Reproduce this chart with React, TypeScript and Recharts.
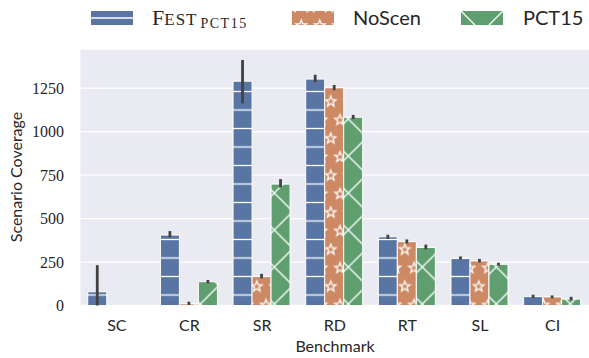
import React from "react"
import { Bar, BarChart, CartesianGrid, ErrorBar, XAxis, YAxis } from "recharts"

const benchmarks = ["SC", "CR", "SR", "RD", "RT", "SL", "CI"]

// mean coverage + confidence interval bounds
const festMean = [79, 405, 1290, 1302, 395, 271, 51]
const festLow = [0, 392, 1162, 1285, 383, 264, 43]
const festHigh = [232, 428, 1412, 1327, 407, 282, 62]

const noScenMean = [0, 10, 166, 1252, 367, 256, 49]
const noScenLow = [0, 3, 156, 1238, 357, 248, 42]
const noScenHigh = [0, 22, 182, 1268, 380, 268, 58]

const pctMean = [0, 137, 698, 1083, 334, 237, 37]
const pctLow = [0, 128, 678, 1072, 323, 229, 31]
const pctHigh = [0, 147, 727, 1096, 350, 246, 50]

const yTicks = [0, 250, 500, 750, 1000, 1250]

const BLUE = "#5975a4"
const ORANGE = "#cc8963"
const GREEN = "#5f9e6e"
const TEXT = "#262626"
const SANS = "Lato"
const SERIF = "Liberation Serif"

function errOf(mean: number, low: number, high: number) {
  if (mean === 0 && low === high) return null
  return [mean - low, high - mean]
}

const data = benchmarks.map((name, i) => ({
  name,
  fest: festMean[i],
  festErr: errOf(festMean[i], festLow[i], festHigh[i]),
  noScen: noScenMean[i],
  noScenErr: errOf(noScenMean[i], noScenLow[i], noScenHigh[i]),
  pct: pctMean[i],
  pctErr: errOf(pctMean[i], pctLow[i], pctHigh[i]),
}))

function starPath(cx: number, cy: number, R = 5.5, r = 2.3) {
  const pts: string[] = []
  for (let k = 0; k < 10; k++) {
    const rad = k % 2 === 0 ? R : r
    const a = -Math.PI / 2 + (k * Math.PI) / 5
    pts.push(`${(cx + rad * Math.cos(a)).toFixed(2)},${(cy + rad * Math.sin(a)).toFixed(2)}`)
  }
  return `M${pts.join("L")}Z`
}

function StarTile({ w, h }: { w: number; h: number }) {
  const centers = [
    [0, 0],
    [w, 0],
    [0, h],
    [w, h],
    [w / 2, h / 2],
  ]
  return (
    <>
      {centers.map(([cx, cy], i) => (
        <path key={i} d={starPath(cx, cy)} fill="none" stroke="#fff" strokeWidth={1.3} />
      ))}
    </>
  )
}

function YTick(props: any) {
  const { x, y, payload } = props
  return (
    <text x={x} y={y} dy="0.355em" textAnchor="end" fill={TEXT} fontSize={16} fontFamily={SERIF}>
      {payload.value}
    </text>
  )
}

function XTick(props: any) {
  const { x, y, payload } = props
  return (
    <text x={x} y={y} dy="0.71em" textAnchor="middle" fill={TEXT} fontSize={16} fontFamily={SANS}>
      {payload.value}
    </text>
  )
}

function Legend() {
  return (
    <svg width={589} height={40} style={{ position: "absolute", left: 0, top: 0 }}>
      <defs>
        <pattern id="legStar" patternUnits="userSpaceOnUse" x={292} y={7} width={18.5} height={37}>
          <rect width={18.5} height={37} fill={ORANGE} />
          <StarTile w={18.5} h={37} />
        </pattern>
      </defs>
      <rect x={91} y={11} width={42} height={14} fill={BLUE} />
      <line x1={91} x2={133} y1={18} y2={18} stroke="#fff" strokeWidth={1.3} />
      <text x={152} y={25} fill={TEXT} fontFamily={SERIF}>
        <tspan fontSize={22}>F</tspan>
        <tspan fontSize={17} letterSpacing={1}>EST</tspan>
        <tspan fontSize={14} letterSpacing={1.5} dx={3} dy={3.3}>PCT15</tspan>
      </text>

      <rect x={292} y={11} width={42} height={14} fill="url(#legStar)" />
      <text x={353} y={25} fontSize={20} fill={TEXT} fontFamily={SANS}>NoScen</text>

      <rect x={461} y={11} width={42} height={14} fill={GREEN} />
      <line x1={461} y1={11} x2={475} y2={25} stroke="#fff" strokeWidth={1.3} />
      <line x1={489} y1={25} x2={503} y2={11} stroke="#fff" strokeWidth={1.3} />
      <text x={523} y={25} fontSize={20} fill={TEXT} fontFamily={SANS}>PCT15</text>
    </svg>
  )
}

export default function App() {
  return (
    <div style={{ position: "absolute", left: 0, top: 0, width: 589, height: 358, background: "#fff" }}>
      <BarChart
        width={589}
        height={358}
        data={data}
        margin={{ top: 49, right: 0, bottom: 22.5, left: 0 }}
        barCategoryGap="10%"
        barGap={0}
      >
        <defs>
          <pattern id="hatchH" patternUnits="userSpaceOnUse" x={0} y={100.75} width={20} height={18.5}>
            <rect width={20} height={18.5} fill={BLUE} />
            <line x1={0} x2={20} y1={9.25} y2={9.25} stroke="#fff" strokeWidth={1.3} />
          </pattern>
          <pattern id="hatchStar" patternUnits="userSpaceOnUse" x={330.75} y={101.5} width={18.5} height={37}>
            <rect width={18.5} height={37} fill={ORANGE} />
            <StarTile w={18.5} h={37} />
          </pattern>
          <pattern id="hatchX" patternUnits="userSpaceOnUse" x={255.8} y={211.5} width={37} height={37}>
            <rect width={37} height={37} fill={GREEN} />
            <line x1={0} y1={0} x2={37} y2={37} stroke="#fff" strokeWidth={1.3} />
            <line x1={0} y1={37} x2={37} y2={0} stroke="#fff" strokeWidth={1.3} />
          </pattern>
        </defs>
        <CartesianGrid vertical={false} stroke="#fff" strokeWidth={1.3} fill="#eaeaf2" />
        <XAxis
          dataKey="name"
          axisLine={false}
          tickLine={false}
          tickMargin={8.5}
          height={30}
          tick={<XTick />}
          label={{
            content: () => (
              <text x={335} y={352} textAnchor="middle" fill={TEXT} fontSize={16} fontFamily={SANS}>
                Benchmark
              </text>
            ),
          }}
        />
        <YAxis
          domain={[0, 1475]}
          ticks={yTicks}
          width={80.5}
          axisLine={false}
          tickLine={false}
          tickMargin={10.5}
          tick={<YTick />}
          label={{
            content: () => (
              <text
                x={21.5}
                y={177}
                transform="rotate(-90 21.5 177)"
                textAnchor="middle"
                fill={TEXT}
                fontSize={16}
                fontFamily={SANS}
              >
                Scenario Coverage
              </text>
            ),
          }}
        />
        <Bar dataKey="fest" fill="url(#hatchH)" stroke="#fff" strokeWidth={1} isAnimationActive={false}>
          <ErrorBar dataKey="festErr" width={0} stroke="#424242" strokeWidth={2.8} />
        </Bar>
        <Bar dataKey="noScen" fill="url(#hatchStar)" stroke="#fff" strokeWidth={1} isAnimationActive={false}>
          <ErrorBar dataKey="noScenErr" width={0} stroke="#424242" strokeWidth={2.8} />
        </Bar>
        <Bar dataKey="pct" fill="url(#hatchX)" stroke="#fff" strokeWidth={1} isAnimationActive={false}>
          <ErrorBar dataKey="pctErr" width={0} stroke="#424242" strokeWidth={2.8} />
        </Bar>
      </BarChart>
      <Legend />
    </div>
  )
}
